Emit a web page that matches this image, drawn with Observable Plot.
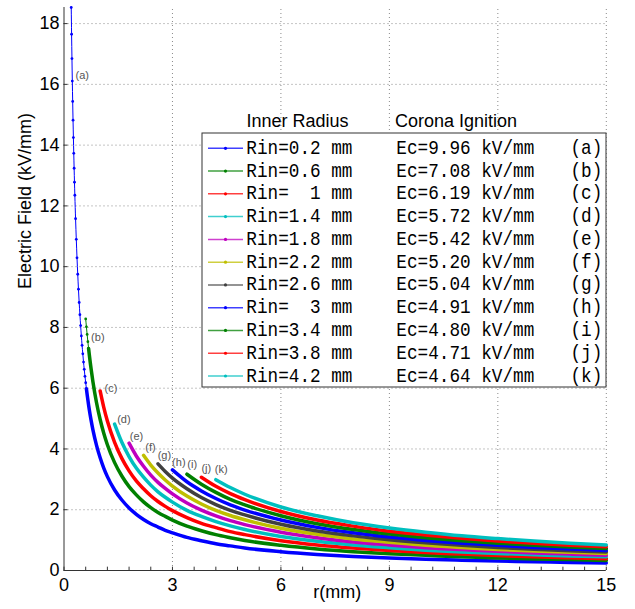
<!DOCTYPE html>
<html><head><meta charset="utf-8">
<script src="https://cdn.jsdelivr.net/npm/d3@7"></script>
<script src="https://cdn.jsdelivr.net/npm/@observablehq/plot@0.6"></script>
<style>
html,body{margin:0;padding:0;background:#fff;}
#chart{position:relative;width:635px;height:609px;}
</style></head><body><div id="chart"></div>
<script>
// ---- data ----
const radii = [0.2, 0.6, 1, 1.4, 1.8, 2.2, 2.6, 3, 3.4, 3.8, 4.2];
const radiusLabels = ["0.2", "0.6", "  1", "1.4", "1.8", "2.2", "2.6", "  3", "3.4", "3.8", "4.2"];
const ecValues = ["9.96", "7.08", "6.19", "5.72", "5.42", "5.20", "5.04", "4.91", "4.80", "4.71", "4.64"];
const curveLabels = ["(a)", "(b)", "(c)", "(d)", "(e)", "(f)", "(g)", "(h)", "(i)", "(j)", "(k)"];
const colors = ["#0000ff", "#008000", "#ff0000", "#00bfbf", "#bf00bf", "#bfbf00", "#404040", "#0000ff", "#008000", "#ff0000", "#00bfbf"];

// sample positions r (mm); each field series starts at its own inner radius
const rGrid = [0.20,0.21,0.22,0.23,0.24,0.25,0.26,0.27,0.28,0.29,0.30,
  0.32,0.34,0.36,0.38,0.40,0.42,0.44,0.46,0.48,0.50,0.52,0.54,0.56,0.58,0.60,
  0.62,0.64,0.66,0.68,0.70,0.75,0.80,0.90,
  1.0,1.1,1.2,1.4,1.6,1.8,2.0,2.2,2.4,2.6,2.8,3.0,3.4,3.8,4.2,4.6,
  5,6,7,8,9,10,11,12,13,14,15];

const fieldA = [18.53,17.65,16.85,16.11,15.44,14.82,14.25,13.73,13.24,12.78,12.35,
  11.58,10.90,10.29,9.75,9.26,8.82,8.42,8.06,7.72,7.41,7.13,6.86,6.62,6.39,6.18,
  5.98,5.79,5.62,5.45,5.29,4.94,4.63,4.12,
  3.71,3.37,3.09,2.65,2.32,2.06,1.85,1.68,1.54,1.43,1.32,1.24,1.09,0.98,0.88,0.81,
  0.74,0.62,0.53,0.46,0.41,0.37,0.34,0.31,0.29,0.26,0.25];
const fieldB = [8.28,8.02,7.77,7.53,7.31,7.10,6.63,6.21,5.52,
  4.97,4.52,4.14,3.55,3.11,2.76,2.49,2.26,2.07,1.91,1.78,1.66,1.46,1.31,1.18,1.08,
  0.99,0.83,0.71,0.62,0.55,0.50,0.45,0.41,0.38,0.36,0.33];
const fieldC = [5.91,5.37,4.92,4.22,3.69,3.28,2.95,2.69,2.46,2.27,2.11,1.97,1.74,1.55,1.41,1.28,
  1.18,0.98,0.84,0.74,0.66,0.59,0.54,0.49,0.45,0.42,0.39];
const fieldD = [4.82,4.22,3.75,3.37,3.07,2.81,2.59,2.41,2.25,1.98,1.78,1.61,1.47,
  1.35,1.12,0.96,0.84,0.75,0.67,0.61,0.56,0.52,0.48,0.45];
const fieldE = [4.19,3.77,3.43,3.14,2.90,2.70,2.52,2.22,1.99,1.80,1.64,
  1.51,1.26,1.08,0.94,0.84,0.75,0.69,0.63,0.58,0.54,0.50];
const fieldF = [3.79,3.47,3.21,2.98,2.78,2.45,2.19,1.98,1.81,
  1.67,1.39,1.19,1.04,0.93,0.83,0.76,0.69,0.64,0.60,0.56];
const fieldG = [3.51,3.26,3.04,2.69,2.40,2.17,1.98,
  1.83,1.52,1.30,1.14,1.01,0.91,0.83,0.76,0.70,0.65,0.61];
const fieldH = [3.31,2.92,2.62,2.37,2.16,
  1.99,1.66,1.42,1.24,1.10,0.99,0.90,0.83,0.76,0.71,0.66];
const fieldI = [3.17,2.84,2.57,2.34,
  2.16,1.80,1.54,1.35,1.20,1.08,0.98,0.90,0.83,0.77,0.72];
const fieldJ = [3.07,2.77,2.53,
  2.33,1.94,1.66,1.46,1.29,1.17,1.06,0.97,0.90,0.83,0.78];
const fieldK = [2.99,2.73,
  2.51,2.09,1.80,1.57,1.40,1.26,1.14,1.05,0.97,0.90,0.84];

// annotation anchors (r, E) for the (a)..(k) tags
const labelR = [0.32, 0.75, 1.12, 1.47, 1.82, 2.25, 2.59, 2.99, 3.41, 3.80, 4.17];
const labelE = [16.30, 7.67, 5.98, 4.96, 4.42, 4.06, 3.79, 3.56, 3.48, 3.35, 3.31];

const xTicks = [0, 3, 6, 9, 12, 15];
const xTickMarks = [0,0.6,1.2,1.8,2.4,3,3.6,4.2,4.8,5.4,6,6.6,7.2,7.8,8.4,9,9.6,10.2,10.8,11.4,12,12.6,13.2,13.8,14.4,15];
const yTicks = [0, 2, 4, 6, 8, 10, 12, 14, 16, 18];
const yMax = 18.53;

// ---- build tables ----
const fields = [fieldA, fieldB, fieldC, fieldD, fieldE, fieldF, fieldG, fieldH, fieldI, fieldJ, fieldK];
const thickFrom = [0.62, 0.68]; // where dense markers merge into a solid band
const series = fields.map((vals, i) => {
  const start = rGrid.indexOf(radii[i]);
  return vals.map((e, j) => ({curve: i, r: rGrid[start + j], e}));
});
const labelRows = curveLabels.map((t, i) => ({t, r: labelR[i], e: labelE[i]}));

const marks = [
  Plot.ruleY(yTicks.filter(d => d > 0), {x1: 0, x2: 15, stroke: "#8a8a8a", strokeDasharray: "1,3"}),
  Plot.ruleX(xTicks.filter(d => d > 0), {y1: 0, y2: yMax, stroke: "#8a8a8a", strokeDasharray: "1,3"}),
];
series.forEach((rows, i) => {
  const tf = thickFrom[i] ?? radii[i];
  const thin = rows.filter(d => d.r <= tf);
  const thick = rows.filter(d => d.r >= tf);
  marks.push(Plot.line(rows, {x: "r", y: "e", stroke: colors[i], strokeWidth: 1, curve: "monotone-x"}));
  if (thin.length > 1) marks.push(Plot.dot(thin, {x: "r", y: "e", r: 1.4, fill: colors[i], stroke: null}));
  marks.push(Plot.line(thick, {x: "r", y: "e", stroke: colors[i], strokeWidth: 3.5, strokeLinecap: "round", curve: "monotone-x"}));
});
marks.push(
  Plot.text(labelRows, {x: "r", y: "e", text: "t", textAnchor: "start", fontSize: 11, fill: "#555"}),
  Plot.ruleX(xTickMarks, {y1: 0, y2: 0.11, stroke: "#333"}),
  Plot.ruleY(yTicks, {x1: 0, x2: 0.11, stroke: "#333"}),
  Plot.ruleX([0], {y1: 0, y2: yMax, stroke: "#333"}),
  Plot.ruleY([0], {x1: 0, x2: 15, stroke: "#333"}),
  Plot.axisX(xTicks, {tickSize: 0, tickPadding: 7.5, fontSize: 18, label: null}),
  Plot.axisY(yTicks, {tickSize: 0, tickPadding: 4.5, fontSize: 18, label: null}),
  Plot.text(["Electric Field (kV/mm)"], {frameAnchor: "left", dx: -38.5, rotate: -90, fontSize: 18}),
  Plot.text(["r(mm)"], {frameAnchor: "bottom", dy: 27, dx: 2, fontSize: 18})
);

const plot = Plot.plot({
  width: 635, height: 609,
  marginLeft: 63.5, marginRight: 29.2, marginTop: 7, marginBottom: 39,
  x: {domain: [0, 15]},
  y: {domain: [0, yMax]},
  style: {fontFamily: "'Liberation Sans', Arial, sans-serif", background: "#fff", overflow: "visible"},
  marks
});
document.getElementById("chart").appendChild(plot);

// ---- legend ----
const svg = d3.select(plot);
const lg = svg.append("g").attr("text-anchor", "start");
const sans = "'Liberation Sans', Arial, sans-serif";
lg.append("text").attr("x", 246.5).attr("y", 127.3).attr("font-size", 18).attr("text-anchor", "start")
  .attr("font-family", sans).attr("fill", "#000").text("Inner Radius");
lg.append("text").attr("x", 395).attr("y", 127.3).attr("font-size", 18).attr("text-anchor", "start")
  .attr("font-family", sans).attr("fill", "#000").text("Corona Ignition");
lg.append("rect").attr("x", 202).attr("y", 133).attr("width", 404).attr("height", 254)
  .attr("fill", "#fff").attr("stroke", "#333").attr("stroke-width", 1);
const mono = "'Liberation Mono', 'Courier New', monospace";
radii.forEach((rin, i) => {
  const yRow = 148.3 + i * 22.77;
  lg.append("line").attr("x1", 208).attr("x2", 243).attr("y1", yRow).attr("y2", yRow)
    .attr("stroke", colors[i]).attr("stroke-width", 1.5).attr("stroke-opacity", 0.75);
  lg.append("circle").attr("cx", 225.5).attr("cy", yRow).attr("r", 1.6).attr("fill", colors[i]);
  const base = yRow + 5.5;
  const put = (x, s) => lg.append("g").attr("transform", `translate(${x},${base}) scale(1,1.12)`)
    .append("text").attr("text-anchor", "start").attr("font-family", mono).attr("font-size", 17.7).attr("fill", "#000")
    .style("white-space", "pre").text(s);
  put(246.3, `Rin=${radiusLabels[i]} mm`);
  put(396.3, `Ec=${ecValues[i]} kV/mm`);
  put(570.5, curveLabels[i]);
});
</script></body></html>
